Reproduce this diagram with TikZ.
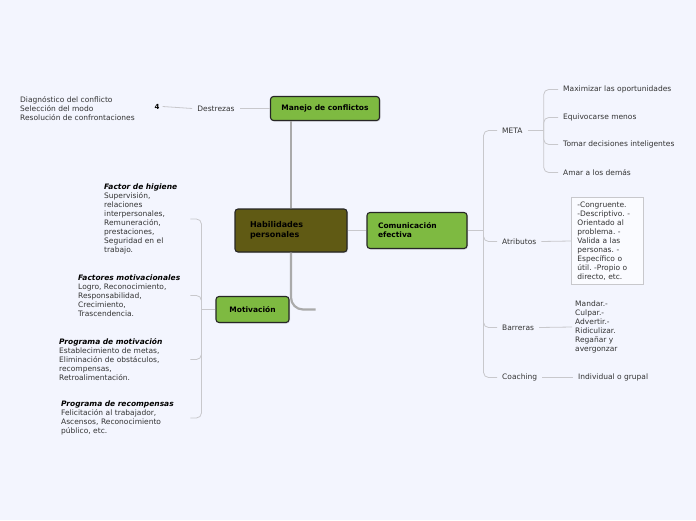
\documentclass[tikz,border=0pt]{standalone}
\usepackage{fontspec}
\setmainfont{DejaVu Sans}
\usetikzlibrary{positioning,shadows}
\frenchspacing

\definecolor{bgblue}{HTML}{F3F5FE}
\definecolor{leafgreen}{HTML}{7EBA41}
\definecolor{olive}{HTML}{605A14}
\definecolor{linegray}{HTML}{C8C8CC}
\definecolor{trunkgray}{HTML}{AAAAAA}
\definecolor{textgray}{HTML}{333333}

\begin{document}
\begin{tikzpicture}[x=1pt, y=-1pt,
    every node/.style={font=\fontsize{7.5}{9}\selectfont, text=textgray},
    topic/.style={draw=black!85, line width=1.1pt, rounded corners=3pt, fill=leafgreen,
        font=\fontsize{7.5}{9}\selectfont\bfseries, text=black,
        drop shadow={opacity=0.25, shadow xshift=1pt, shadow yshift=-1pt}},
    leaf/.style={inner xsep=5pt, inner ysep=1pt},
    textblock/.style={align=left, inner xsep=3pt, inner ysep=0pt},
    branch/.style={draw=linegray, line width=0.8pt, rounded corners=5pt},
    trunk/.style={draw=trunkgray, line width=2.2pt, rounded corners=12pt}]

    \fill[bgblue] (0,0) rectangle (696,520);
    \useasboundingbox (0,0) rectangle (696,520);

    % main topics
    \node[topic, fill=olive, font=\fontsize{8}{10}\selectfont\bfseries, text width=82pt,
        inner xsep=15pt, minimum height=43pt, align=left] (hab) at (291,230.5) {Habilidades\\personales};
    \node[topic, minimum width=109pt, minimum height=24pt] (manejo) at (325,108.5) {Manejo de conflictos};
    \node[topic, text width=78pt, inner xsep=11pt, minimum height=36pt, align=left] (com) at (417,230.5) {Comunicación\\efectiva};
    \node[topic, minimum width=73pt, minimum height=26pt] (motiv) at (252.5,309.5) {Motivación};

    % manejo de conflictos
    \node[leaf] (destrezas) at (216,108.5) {Destrezas};
    \node[font=\fontsize{7}{8}\selectfont\bfseries, text=black, inner xsep=3pt] (mark) at (157,106.5) {4};
    \node[textblock, anchor=west] (diag) at (17,108.5) {Diagnóstico del conflicto\\Selección del modo\\Resolución de confrontaciones};

    % comunicacion efectiva
    \node[leaf, anchor=west] (meta) at (497,130.5) {META};
    \node[leaf, anchor=west] (maxim) at (558,89.5) {Maximizar las oportunidades};
    \node[leaf, anchor=west] (equiv) at (558,117.5) {Equivocarse menos};
    \node[leaf, anchor=west] (tomar) at (558,144.5) {Tomar decisiones inteligentes};
    \node[leaf, anchor=west] (amar) at (558,172.5) {Amar a los demás};
    \node[leaf, anchor=west] (atrib) at (497,241.5) {Atributos};
    \node[textblock, anchor=west, draw=linegray, fill=white!60!bgblue, line width=0.8pt,
        text width=60pt, inner xsep=6pt, inner ysep=4pt] (attrbox) at (571,241)
        {-Congruente.\\-Descriptivo. -\\Orientado al\\problema. -\\Valida a las\\personas. -\\Específico o\\útil. -Propio o\\directo, etc.};
    \node[leaf, anchor=west] (barr) at (497,327.5) {Barreras};
    \node[textblock, anchor=west] (barrlist) at (572,327) {Mandar.-\\Culpar.-\\Advertir.-\\Ridiculizar.\\Regañar y\\avergonzar};
    \node[leaf, anchor=west] (coach) at (497,377.5) {Coaching};
    \node[leaf, anchor=west] (indiv) at (573,377.5) {Individual o grupal};

    % motivacion
    \node[textblock, anchor=west, text width=83pt] (higiene) at (101,219)
        {\textcolor{black}{\textbf{\textit{Factor de higiene}}}\\Supervisión,\\relaciones\\interpersonales,\\Remuneración,\\prestaciones,\\Seguridad en el\\trabajo.};
    \node[textblock, anchor=west, text width=109pt] (factores) at (75,295.5)
        {\textcolor{black}{\textbf{\textit{Factores motivacionales}}}\\Logro, Reconocimiento,\\Responsabilidad,\\Crecimiento,\\Trascendencia.};
    \node[textblock, anchor=west, text width=128pt] (progmot) at (56,359.5)
        {\textcolor{black}{\textbf{\textit{Programa de motivación}}}\\Establecimiento de metas,\\Eliminación de obstáculos,\\recompensas,\\Retroalimentación.};
    \node[textblock, anchor=west, text width=126pt] (progrec) at (58,418)
        {\textcolor{black}{\textbf{\textit{Programa de recompensas}}}\\Felicitación al trabajador,\\Ascensos, Reconocimiento\\público, etc.};

    % connectors
    \draw[trunk] (hab.north) -- (hab.north |- manejo.south);
    \draw[trunk] (hab.south) |- ([xshift=26pt]motiv.east);
    \draw[branch] (hab.east) -- (com.west);
    \draw[branch] (manejo.west) -- (destrezas.east);
    \draw[branch] (destrezas.west) -- (mark.east);

    \draw[branch] (com.east) -- ++(16,0) coordinate (comjoin);
    \foreach \n in {meta,atrib,barr,coach}
        \draw[branch] (comjoin) |- (\n.west);
    \draw[branch] (meta.east) -- ++(16,0) coordinate (metajoin);
    \foreach \n in {maxim,equiv,tomar,amar}
        \draw[branch] (metajoin) |- (\n.west);
    \draw[branch] (atrib.east) -- (attrbox.west);
    \draw[branch] (barr.east) -- (barrlist.west);
    \draw[branch] (coach.east) -- (indiv.west);

    \draw[branch] (motiv.west) -- ++(-14,0) coordinate (motjoin);
    \foreach \n in {higiene,factores,progmot,progrec}
        \draw[branch] (motjoin) |- (\n.east);
\end{tikzpicture}
\end{document}
